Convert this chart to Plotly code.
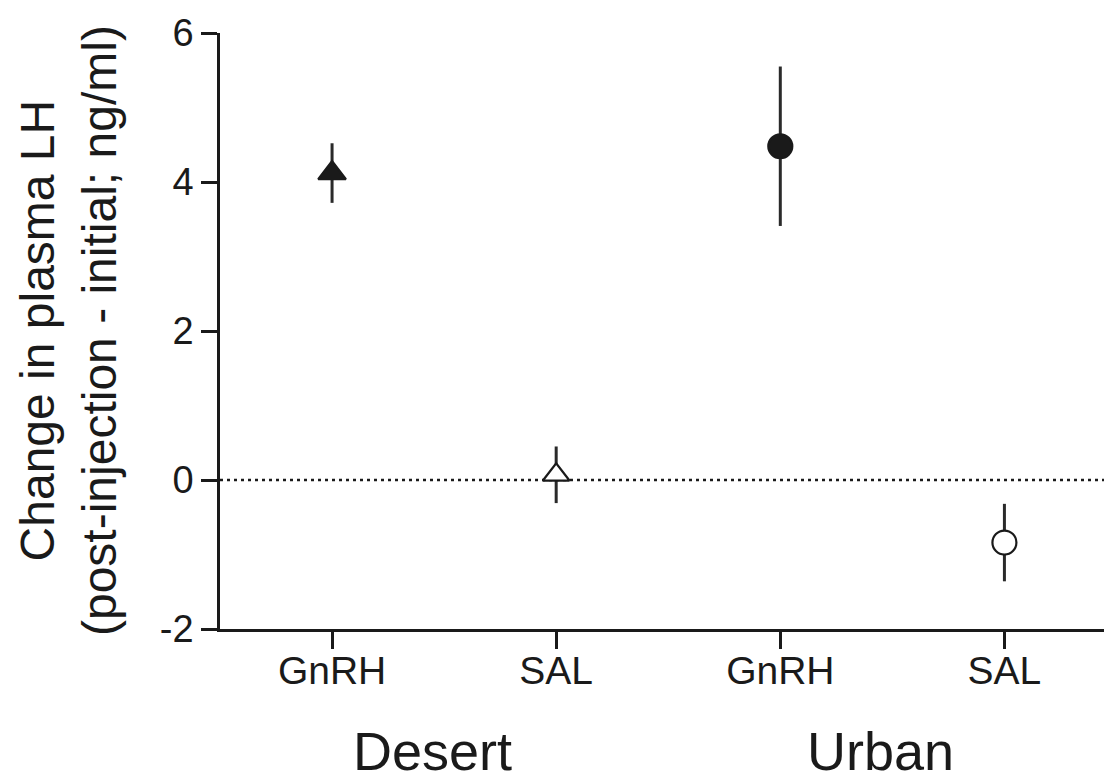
import plotly.graph_objects as go

# Data
positions = [0, 1, 2, 3]
tick_labels = ["GnRH", "SAL", "GnRH", "SAL"]
groups = ["Desert", "Urban"]
group_centers = [0.5, 2.5]

desert_gnrh = 4.12
desert_gnrh_err = 0.40
desert_sal = 0.07
desert_sal_err = 0.38
urban_gnrh = 4.48
urban_gnrh_err = 1.07
urban_sal = -0.84
urban_sal_err = 0.52

y_ticks = [-2, 0, 2, 4, 6]
y_tick_text = ["-2", "0", "2", "4", "6"]
y_title = "Change in plasma LH<br>(post-injection - initial; ng/ml)"

FONT = "Arial, Liberation Sans, sans-serif"
INK = "#1a1a1a"
ERR = "#2a2a2a"

fig = go.Figure()

def add_point(x, y, err, symbol, size, fill):
    fig.add_trace(go.Scatter(
        x=[x], y=[y], mode="markers",
        marker=dict(symbol=symbol, size=size, color=fill,
                    line=dict(color=INK, width=2.2)),
        error_y=dict(type="data", array=[err], visible=True,
                     thickness=3, width=0, color=ERR),
        showlegend=False, cliponaxis=False,
    ))

add_point(positions[0], desert_gnrh, desert_gnrh_err, "triangle-up", 24, INK)
add_point(positions[1], desert_sal, desert_sal_err, "triangle-up", 23, "white")
add_point(positions[2], urban_gnrh, urban_gnrh_err, "circle", 24, INK)
add_point(positions[3], urban_sal, urban_sal_err, "circle", 24, "white")

# dotted zero reference line
fig.add_shape(type="line", xref="paper", x0=0, x1=1, yref="y", y0=0, y1=0,
              line=dict(color=INK, width=2.5, dash="3px,4px"), layer="below")

# group labels
for g, c in zip(groups, group_centers):
    fig.add_annotation(x=c, xref="x", y=0, yref="paper", text=g,
                       showarrow=False, yanchor="middle", xanchor="center",
                       yshift=-122, xshift=-12,
                       font=dict(family=FONT, size=54, color=INK))

# y-axis title
fig.add_annotation(x=0, xref="paper", y=0.5, yref="paper", text=y_title,
                   textangle=-90, showarrow=False, xanchor="center",
                   yanchor="middle", xshift=-152,
                   font=dict(family=FONT, size=48, color=INK))

fig.update_layout(
    width=1104, height=772,
    margin=dict(l=212, r=0, t=25, b=151),
    paper_bgcolor="white", plot_bgcolor="white",
    font=dict(family=FONT, color=INK),
    xaxis=dict(range=[-0.5, 3.48], tickvals=positions, ticktext=tick_labels,
               showline=True, linecolor=INK, linewidth=2.5,
               ticks="outside", ticklen=17, tickwidth=2.5, tickcolor=INK,
               ticklabelstandoff=-12,
               showgrid=False, zeroline=False,
               tickfont=dict(family=FONT, size=39, color=INK)),
    yaxis=dict(range=[-2, 6], tickvals=y_ticks, ticktext=y_tick_text,
               showline=True, linecolor=INK, linewidth=2.5,
               ticks="outside", ticklen=16, tickwidth=2.5, tickcolor=INK,
               showgrid=False, zeroline=False,
               tickfont=dict(family=FONT, size=38, color=INK)),
)

fig.write_html("out.html")
